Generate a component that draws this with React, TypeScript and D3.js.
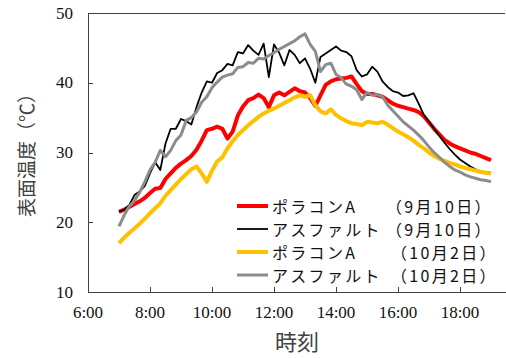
import React from 'react';
import * as d3 from 'd3';

// 10-minute readings from 7:00 to 19:00
const startHour = 7;
const stepsPerHour = 6;

const poraconSep = [
  21.5, 21.8, 22.2, 22.6, 23.0, 23.5, 24.2, 24.8, 24.9, 26.2,
  27.0, 27.8, 28.4, 28.9, 29.5, 30.4, 31.7, 33.2, 33.4, 33.7,
  33.4, 32.0, 33.0, 35.3, 36.6, 37.5, 37.8, 38.3, 37.8, 36.5,
  38.2, 38.6, 38.2, 38.7, 39.2, 38.8, 38.6, 37.8, 36.7, 38.2,
  39.7, 40.2, 40.5, 40.6, 40.7, 40.9, 39.8, 38.8, 38.4, 38.4,
  38.2, 38.0, 37.5, 37.0, 36.7, 36.5, 36.3, 36.1, 35.8, 35.2,
  34.3, 33.4, 32.6, 31.8, 31.3, 30.9, 30.6, 30.3, 30.0, 29.8,
  29.5, 29.2, 28.9,
];

const asphaltSep = [
  21.5, 21.8, 22.5, 23.9, 24.4, 25.2, 27.0, 28.6, 27.5, 31.3,
  33.4, 33.4, 34.8, 34.5, 34.0, 36.5, 38.6, 40.2, 40.0, 41.4,
  41.8, 42.7, 42.5, 44.4, 44.2, 45.4, 44.6, 44.0, 45.6, 40.8,
  45.5, 44.3, 42.5, 44.7, 44.0, 42.8, 43.5, 42.0, 40.0, 43.7,
  44.2, 44.7, 45.2, 44.6, 44.4, 43.8, 41.8, 40.9, 41.2, 42.3,
  41.6, 40.2, 39.4, 38.8, 38.6, 38.1, 38.2, 38.5, 37.0, 35.4,
  34.4, 33.4, 32.4, 31.4, 30.5, 29.7, 29.0, 28.5, 28.0, 27.6,
  27.3, 27.2, 27.1,
];

const poraconOct = [
  17.0, 17.8, 18.5, 19.1, 19.8, 20.5, 21.3, 22.0, 22.7, 23.8,
  24.6, 25.4, 26.2, 26.9, 27.6, 28.0, 27.0, 25.8, 27.4, 28.7,
  29.3, 30.6, 31.6, 32.5, 33.2, 33.9, 34.5, 35.1, 35.6, 36.0,
  36.3, 36.7, 37.1, 37.5, 37.9, 38.2, 38.0, 38.2, 36.8, 35.9,
  35.6, 36.2, 35.4, 34.9, 34.5, 34.2, 34.1, 33.9, 34.4, 34.3,
  34.2, 34.4, 34.0, 33.5, 33.0, 32.6, 32.2, 31.7, 31.1, 30.6,
  30.0, 29.5, 29.1, 28.8, 28.5, 28.3, 28.0, 27.8, 27.6, 27.4,
  27.2, 27.1, 27.0,
];

const asphaltOct = [
  19.4, 21.0, 22.3, 23.1, 24.3, 25.8, 27.5, 28.6, 30.3, 29.4,
  30.3, 31.7, 32.5, 34.6, 35.0, 35.8, 37.2, 38.0, 39.3, 40.1,
  40.8, 41.1, 41.3, 42.2, 42.3, 42.9, 42.8, 43.5, 43.4, 43.9,
  44.3, 44.8, 45.2, 45.6, 46.0, 46.6, 47.0, 45.5, 44.5, 41.6,
  42.6, 42.8, 41.2, 40.7, 39.8, 39.5, 39.0, 37.6, 38.6, 38.2,
  38.3, 38.0, 36.8, 36.0, 35.2, 34.4, 33.8, 33.2, 32.5, 31.7,
  30.8, 30.0, 29.3, 28.6, 28.0, 27.5, 27.2, 26.8, 26.5, 26.3,
  26.1, 26.0, 25.8,
];

const seriesNames = ['ポラコンA', 'アスファルト', 'ポラコンA', 'アスファルト'];
const seriesDates = ['（9月10日）', '（9月10日）', '（10月2日）', '（10月2日）'];
const seriesValues = [poraconSep, asphaltSep, poraconOct, asphaltOct];
const seriesColors = ['#ff0000', '#000000', '#ffc000', '#8c8c8c'];
const seriesWidths = [4, 1.8, 4, 3];

const xTicks = [6, 8, 10, 12, 14, 16, 18];
const yTicks = [10, 20, 30, 40, 50];

const W = 506;
const H = 358;
const left = 88;
const right = 505;
const top = 13;
const bottom = 292;

const x = d3.scaleLinear().domain([6, 6 + (right - left) / 31]).range([left, right]);
const y = d3.scaleLinear().domain([10, 50]).range([bottom, top]);

const hourOf = (i: number) => startHour + i / stepsPerHour;

const line = d3
  .line<number>()
  .x((_, i) => x(hourOf(i)))
  .y((d) => y(d));

const jp = '"Noto Sans CJK JP", "Noto Sans", sans-serif';
const serif = '"Liberation Serif", "Times New Roman", "DejaVu Serif", serif';
const axisColor = '#404040';

export default function App() {
  const legendY = [206, 229, 252, 275];
  const dateX = [386, 386, 391, 391];

  return (
    <svg
      width={W}
      height={H}
      style={{ position: 'absolute', left: 0, top: 0, background: '#fff' }}
    >
      {/* frame: top, left, bottom */}
      <line x1={left} x2={right} y1={top + 0.5} y2={top + 0.5} stroke={axisColor} />
      <line x1={left + 0.5} x2={left + 0.5} y1={top} y2={bottom} stroke={axisColor} />
      <line x1={left} x2={W} y1={bottom + 0.5} y2={bottom + 0.5} stroke={axisColor} />

      {yTicks.map((t) => (
        <g key={'y' + t}>
          <line x1={left} x2={left + 5} y1={Math.round(y(t)) + 0.5} y2={Math.round(y(t)) + 0.5} stroke={axisColor} />
          <text
            x={73}
            y={y(t)}
            textAnchor="end"
            dominantBaseline="central"
            style={{ fontFamily: serif, fontSize: 17 }}
            fill="#111"
          >
            {t}
          </text>
        </g>
      ))}

      {xTicks.map((t) => (
        <g key={'x' + t}>
          <line x1={Math.round(x(t)) + 0.5} x2={Math.round(x(t)) + 0.5} y1={bottom} y2={bottom - 5} stroke={axisColor} />
          <text x={x(t)} y={318} textAnchor="middle" style={{ fontFamily: serif, fontSize: 17 }} fill="#111">
            {t + ':00'}
          </text>
        </g>
      ))}

      {seriesValues.map((vals, i) => (
        <path
          key={'s' + i}
          d={line(vals) || ''}
          fill="none"
          stroke={seriesColors[i]}
          strokeWidth={seriesWidths[i]}
          strokeLinejoin="round"
        />
      ))}

      {/* legend */}
      {seriesNames.map((name, i) => (
        <g key={'l' + i}>
          <line
            x1={237}
            x2={268}
            y1={legendY[i]}
            y2={legendY[i]}
            stroke={seriesColors[i]}
            strokeWidth={seriesWidths[i]}
          />
          <text
            x={272}
            y={legendY[i]}
            dominantBaseline="central"
            fontFamily={jp}
            fontSize={16}
            letterSpacing={2.3}
            fill="#111"
          >
            {name}
          </text>
          <text
            x={dateX[i]}
            y={legendY[i]}
            dominantBaseline="central"
            fontFamily={jp}
            fontSize={16}
            letterSpacing={2.3}
            fill="#111"
          >
            {seriesDates[i]}
          </text>
        </g>
      ))}

      <text
        transform={`translate(25,${(top + bottom) / 2 - 2}) rotate(-90)`}
        textAnchor="middle"
        dominantBaseline="central"
        fontFamily={jp}
        fontSize={19}
        fill="#404040"
      >
        表面温度（℃）
      </text>
      <text x={297} y={350} textAnchor="middle" fontFamily={jp} fontSize={22} fill="#404040">
        時刻
      </text>
    </svg>
  );
}
